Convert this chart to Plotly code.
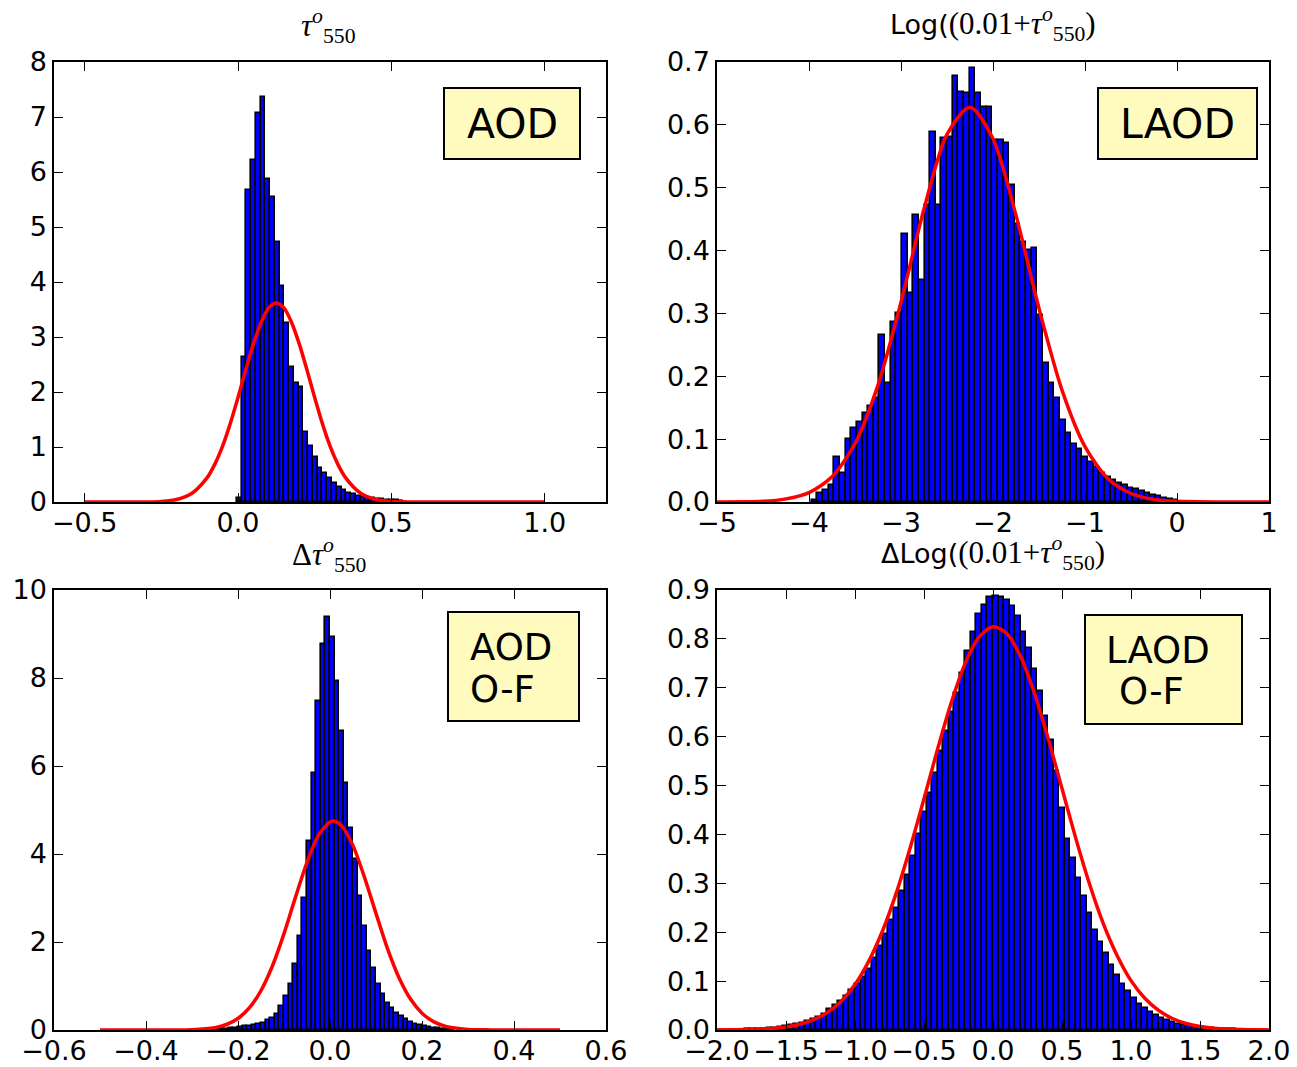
import plotly.graph_objects as go

W, H = 1297, 1067

# ---------------- data ----------------
# Panel 1: AOD (tau_550) normalized histogram + normal fit
aod_bin_start = -0.0035
aod_bin_width = 0.0155
aod_density = [0.08, 2.64, 5.67, 6.22, 7.08, 7.36, 5.88, 5.54, 4.72, 3.93, 3.25,
               2.46, 2.16, 2.10, 1.28, 1.01, 0.82, 0.61, 0.52, 0.43, 0.34, 0.28,
               0.22, 0.17, 0.14, 0.11, 0.10, 0.08, 0.07, 0.06, 0.05, 0.04, 0.035,
               0.03, 0.02]
aod_fit_x = [-0.5, -0.3, -0.25, -0.2, -0.15, -0.1, -0.075, -0.05, -0.025, 0.0, 0.025,
             0.05, 0.075, 0.1, 0.125, 0.15, 0.175, 0.2, 0.225, 0.25, 0.275, 0.3,
             0.325, 0.35, 0.4, 0.45, 0.5, 0.55, 0.6, 1.0]
aod_fit_y = [0.0, 0.002, 0.011, 0.046, 0.159, 0.447, 0.693, 1.02, 1.43, 1.90, 2.40,
             2.87, 3.26, 3.53, 3.62, 3.53, 3.26, 2.87, 2.40, 1.90, 1.43, 1.02,
             0.693, 0.447, 0.159, 0.046, 0.011, 0.002, 0.0, 0.0]

# Panel 2: LAOD histogram + normal fit
laod_bin_start = -3.97
laod_bin_width = 0.0613
laod_density = [0.003, 0.014, 0.019, 0.027, 0.072, 0.046, 0.101, 0.117, 0.128, 0.141,
                0.152, 0.165, 0.266, 0.189, 0.287, 0.300, 0.427, 0.332, 0.457, 0.353,
                0.472, 0.589, 0.472, 0.579, 0.581, 0.677, 0.653, 0.650, 0.690, 0.650,
                0.629, 0.629, 0.576, 0.576, 0.571, 0.504, 0.443, 0.414, 0.401, 0.404,
                0.297, 0.221, 0.189, 0.165, 0.130, 0.109, 0.093, 0.085, 0.072, 0.064,
                0.056, 0.046, 0.040, 0.035, 0.031, 0.027, 0.023, 0.020, 0.017, 0.014,
                0.011, 0.009, 0.007, 0.005, 0.003]
laod_fit_x = [-5.0, -4.5, -4.25, -4.0, -3.75, -3.5, -3.25, -3.0, -2.75, -2.5, -2.25,
              -2.0, -1.75, -1.5, -1.25, -1.0, -0.75, -0.5, -0.25, 0.0, 0.5, 1.0]
laod_fit_y = [0.0, 0.001, 0.005, 0.015, 0.040, 0.093, 0.186, 0.318, 0.466, 0.585, 0.628,
              0.578, 0.456, 0.308, 0.178, 0.088, 0.037, 0.0135, 0.004, 0.001, 0.0, 0.0]

# Panel 3: AOD O-F histogram + normal fit
aodof_bin_start = -0.26
aodof_bin_width = 0.01
aodof_density = [0.015, 0.02, 0.025, 0.03, 0.04, 0.05, 0.06, 0.08, 0.09, 0.11,
                 0.13, 0.17, 0.22, 0.28, 0.36, 0.545, 0.77, 1.05, 1.49, 2.14,
                 3.01, 4.30, 5.85, 7.48, 8.78, 9.39, 8.93, 7.93, 6.80, 5.62,
                 4.60, 3.88, 3.04, 2.36, 1.80, 1.42, 1.04, 0.81, 0.62, 0.51,
                 0.39, 0.32, 0.24, 0.19, 0.14, 0.11, 0.08, 0.06, 0.05, 0.04,
                 0.03, 0.02, 0.015]
aodof_fit_x = [-0.5, -0.45, -0.4, -0.35, -0.3, -0.25, -0.225, -0.2, -0.175, -0.15,
               -0.125, -0.1, -0.075, -0.05, -0.025, 0.0, 0.007, 0.025, 0.05, 0.075,
               0.1, 0.125, 0.15, 0.175, 0.2, 0.225, 0.25, 0.3, 0.35, 0.4, 0.45, 0.5]
aodof_fit_y = [0.0, 0.0, 0.0, 0.001, 0.008, 0.054, 0.125, 0.262, 0.506, 0.896,
               1.46, 2.19, 3.02, 3.81, 4.43, 4.73, 4.75, 4.65, 4.19, 3.47,
               2.65, 1.85, 1.19, 0.705, 0.383, 0.191, 0.088, 0.014, 0.002, 0.0, 0.0, 0.0]

# Panel 4: LAOD O-F histogram + normal fit
laodof_bin_start = -2.0
laodof_bin_width = 0.04
laodof_density = [0.000, 0.000, 0.001, 0.001, 0.001, 0.002, 0.002, 0.003, 0.003, 0.004,
                  0.005, 0.006, 0.008, 0.010, 0.012, 0.015, 0.018, 0.022, 0.027, 0.033,
                  0.043, 0.051, 0.060, 0.070, 0.081, 0.095, 0.108, 0.124, 0.148, 0.172,
                  0.197, 0.224, 0.249, 0.284, 0.317, 0.355, 0.400, 0.445, 0.485, 0.525,
                  0.570, 0.612, 0.650, 0.690, 0.730, 0.775, 0.815, 0.850, 0.870, 0.885,
                  0.888, 0.885, 0.880, 0.868, 0.847, 0.814, 0.782, 0.738, 0.693, 0.642,
                  0.594, 0.530, 0.455, 0.390, 0.352, 0.310, 0.275, 0.240, 0.205, 0.180,
                  0.157, 0.133, 0.112, 0.095, 0.080, 0.066, 0.054, 0.044, 0.037, 0.030,
                  0.025, 0.020, 0.016, 0.013, 0.011, 0.009, 0.007, 0.006, 0.005, 0.004,
                  0.003, 0.003, 0.002, 0.002, 0.001, 0.001, 0.001, 0.000, 0.000, 0.000]
laodof_fit_x = [-2.0, -1.9, -1.8, -1.7, -1.6, -1.5, -1.4, -1.3, -1.2, -1.1, -1.0,
                -0.9, -0.8, -0.7, -0.6, -0.5, -0.4, -0.3, -0.2, -0.1, 0.0,
                0.1, 0.2, 0.3, 0.4, 0.5, 0.6, 0.7, 0.8, 0.9, 1.0,
                1.1, 1.2, 1.3, 1.4, 1.5, 1.6, 1.7, 1.8, 1.9, 2.0]
laodof_fit_y = [0.0, 0.0003, 0.0008, 0.0016, 0.0032, 0.0063, 0.0118, 0.021, 0.036, 0.059, 0.093,
                0.141, 0.203, 0.281, 0.373, 0.473, 0.576, 0.672, 0.751, 0.804, 0.825,
                0.811, 0.764, 0.689, 0.596, 0.494, 0.392, 0.298, 0.217, 0.152, 0.101,
                0.065, 0.040, 0.0235, 0.0133, 0.0072, 0.0037, 0.0018, 0.0009, 0.0004, 0.0002]

# axis ticks
x1_ticks = [-0.5, 0.0, 0.5, 1.0]
x1_text = ["\u22120.5", "0.0", "0.5", "1.0"]
y1_ticks = [0, 1, 2, 3, 4, 5, 6, 7, 8]
y1_text = ["0", "1", "2", "3", "4", "5", "6", "7", "8"]
x2_ticks = [-5, -4, -3, -2, -1, 0, 1]
x2_text = ["\u22125", "\u22124", "\u22123", "\u22122", "\u22121", "0", "1"]
y2_ticks = [0.0, 0.1, 0.2, 0.3, 0.4, 0.5, 0.6, 0.7]
y2_text = ["0.0", "0.1", "0.2", "0.3", "0.4", "0.5", "0.6", "0.7"]
x3_ticks = [-0.6, -0.4, -0.2, 0.0, 0.2, 0.4, 0.6]
x3_text = ["\u22120.6", "\u22120.4", "\u22120.2", "0.0", "0.2", "0.4", "0.6"]
y3_ticks = [0, 2, 4, 6, 8, 10]
y3_text = ["0", "2", "4", "6", "8", "10"]
x4_ticks = [-2.0, -1.5, -1.0, -0.5, 0.0, 0.5, 1.0, 1.5, 2.0]
x4_text = ["\u22122.0", "\u22121.5", "\u22121.0", "\u22120.5", "0.0", "0.5", "1.0", "1.5", "2.0"]
y4_ticks = [0.0, 0.1, 0.2, 0.3, 0.4, 0.5, 0.6, 0.7, 0.8, 0.9]
y4_text = ["0.0", "0.1", "0.2", "0.3", "0.4", "0.5", "0.6", "0.7", "0.8", "0.9"]

# ---------------- figure ----------------
def fx(p):
    return p / W

def fy(p):
    return 1 - p / H

BAR_BLUE = "#0000FF"
FIT_RED = "#FF0000"

fig = go.Figure()

panels = [
    (aod_bin_start, aod_bin_width, aod_density, aod_fit_x, aod_fit_y, "x", "y"),
    (laod_bin_start, laod_bin_width, laod_density, laod_fit_x, laod_fit_y, "x2", "y2"),
    (aodof_bin_start, aodof_bin_width, aodof_density, aodof_fit_x, aodof_fit_y, "x3", "y3"),
    (laodof_bin_start, laodof_bin_width, laodof_density, laodof_fit_x, laodof_fit_y, "x4", "y4"),
]

for start, width, dens, fxs, fys, xa, ya in panels:
    centers = [start + width * (i + 0.5) for i in range(len(dens))]
    fig.add_trace(go.Bar(
        x=centers, y=dens, width=width, xaxis=xa, yaxis=ya,
        marker=dict(color=BAR_BLUE, line=dict(color="black", width=1.6)),
        showlegend=False, hoverinfo="skip",
    ))
    fig.add_trace(go.Scatter(
        x=fxs, y=fys, mode="lines", xaxis=xa, yaxis=ya,
        line=dict(color=FIT_RED, width=3.5, shape="spline", smoothing=0.8),
        showlegend=False, hoverinfo="skip",
    ))

tickfont = dict(family="DejaVu Sans", size=27, color="black")

def axis(domain, rng, tv, tt, anchor, is_x):
    d = dict(
        domain=domain, range=rng, anchor=anchor, automargin=False,
        tickmode="array", tickvals=tv, ticktext=tt, tickangle=0,
        ticks="inside", ticklen=9, tickwidth=1, tickcolor="black",
        showline=True, linecolor="black", linewidth=1.5, mirror="ticks",
        showgrid=False, zeroline=False, tickfont=tickfont, fixedrange=True,
    )
    if is_x:
        d["ticklabelstandoff"] = -4
    return d

xl = [fx(54), fx(606)]
xr = [fx(717), fx(1269)]
yt = [fy(502), fy(62)]
yb = [fy(1030), fy(590)]

fig.update_layout(
    width=W, height=H,
    margin=dict(l=0, r=0, t=0, b=0, autoexpand=False),
    paper_bgcolor="white", plot_bgcolor="white",
    barmode="overlay", bargap=0,
    xaxis=axis(xl, [-0.6, 1.2], x1_ticks, x1_text, "y", True),
    yaxis=axis(yt, [0, 8], y1_ticks, y1_text, "x", False),
    xaxis2=axis(xr, [-5, 1], x2_ticks, x2_text, "y2", True),
    yaxis2=axis(yt, [0, 0.7], y2_ticks, y2_text, "x2", False),
    xaxis3=axis(xl, [-0.6, 0.6], x3_ticks, x3_text, "y3", True),
    yaxis3=axis(yb, [0, 10], y3_ticks, y3_text, "x3", False),
    xaxis4=axis(xr, [-2, 2], x4_ticks, x4_text, "y4", True),
    yaxis4=axis(yb, [0, 0.9], y4_ticks, y4_text, "x4", False),
)

# label boxes
BOX_FILL = "#FFFBBE"
boxes = [(444, 88, 580, 159), (1098, 88, 1257, 159), (448, 612, 579, 721), (1085, 615, 1242, 724)]
for x0, y0, x1, y1 in boxes:
    fig.add_shape(type="rect", xref="paper", yref="paper",
                  x0=fx(x0), x1=fx(x1), y0=fy(y1), y1=fy(y0),
                  fillcolor=BOX_FILL, line=dict(color="black", width=2), layer="above")

box_texts = [
    ("AOD", 512, 124, 41, "center"),
    ("LAOD", 1177, 124, 41, "center"),
    ("AOD", 468, 647, 37, "left"),
    ("O-F", 468, 689, 37, "left"),
    ("LAOD", 1104, 650, 37, "left"),
    ("O-F", 1117, 691, 37, "left"),
]
for txt, x, y, size, align in box_texts:
    fig.add_annotation(text=txt, xref="paper", yref="paper", x=fx(x), y=fy(y),
                       xanchor=align, yanchor="middle", showarrow=False,
                       font=dict(family="DejaVu Sans", size=size, color="black"))

SERIF = "font-family:'Liberation Serif','DejaVu Serif',serif;font-size:31px"
tau = "<i>\u03c4</i><sup><i>o</i></sup><sub>550</sub>"
titles = [
    (f"<span style=\"{SERIF}\">{tau}</span>", 328, 26),
    (f"Log(<span style=\"{SERIF}\">(0.01+{tau})</span>", 993, 24),
    (f"<span style=\"{SERIF}\">\u0394{tau}</span>", 330, 555),
    (f"\u0394Log(<span style=\"{SERIF}\">(0.01+{tau})</span>", 993, 553),
]
for txt, x, y in titles:
    fig.add_annotation(text=txt, xref="paper", yref="paper", x=fx(x), y=fy(y),
                       xanchor="center", yanchor="middle", showarrow=False,
                       font=dict(family="DejaVu Sans", size=27, color="black"))

fig.write_html("out.html", post_script="document.body.style.margin='0';",
               config={"displayModeBar": False})
